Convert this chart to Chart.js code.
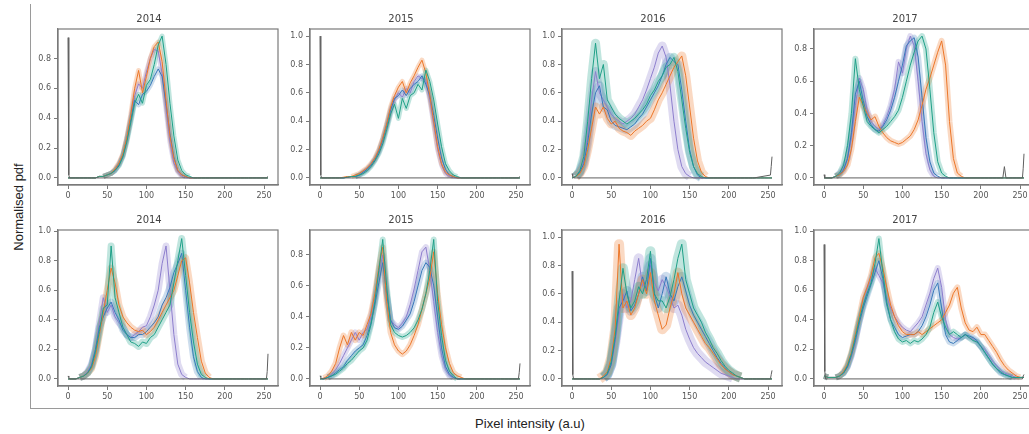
<!DOCTYPE html>
<html>
<head>
<meta charset="utf-8">
<script src="https://cdn.jsdelivr.net/npm/chart.js@4.4.1/dist/chart.umd.min.js"></script>
<style>
    body { margin: 0; background: #fff; }
    #figure { position: relative; width: 1029px; height: 434px; overflow: hidden; background: #fff; }
    #frame { position: absolute; left: 30px; top: 4px; width: 1010px; height: 404px;
             border-left: 1px solid #9a9a9a; border-bottom: 1px solid #9a9a9a; }
    .panel { position: absolute; }
    .panel canvas { filter: blur(0.45px); }
    #ylabel { position: absolute; left: 18px; top: 207px; transform: translate(-50%, -50%) rotate(-90deg);
              font: 13px "Liberation Sans", Arial, sans-serif; color: #222; white-space: nowrap; }
    #xlabel { position: absolute; left: 530px; top: 423px; transform: translate(-50%, -50%);
              font: 13px "Liberation Sans", Arial, sans-serif; color: #222; white-space: nowrap; }
</style>
</head>
<body>
<div id="figure">
    <div id="frame"></div>
    <div id="ylabel">Normalised pdf</div>
    <div id="xlabel">Pixel intensity (a.u)</div>
</div>
<script>
// ===== DATA =====
const years = ['2014', '2015', '2016', '2017', '2014', '2015', '2016', '2017'];
const xTicks = [0, 50, 100, 150, 200, 250];
const yTicks = [0.0, 0.2, 0.4, 0.6, 0.8, 1.0];
// nilai tertinggi tiap panel (untuk rentang sumbu y)
const peakValue = [0.95, 1.0, 1.0, 0.88, 0.96, 0.915, 1.0, 0.96];

// intensitas piksel 0..255, langkah 5
const intensity = [
    0, 5, 10, 15, 20, 25, 30, 35, 40, 45,
    50, 55, 60, 65, 70, 75, 80, 85, 90, 95,
    100, 105, 110, 115, 120, 125, 130, 135, 140, 145,
    150, 155, 160, 165, 170, 175, 180, 185, 190, 195,
    200, 205, 210, 215, 220, 225, 230, 235, 240, 245,
    250, 255
];
// titik tepi (lonjakan di 0 dan 255)
const edgeX = [0, 1, 2, 228, 230, 232, 253, 254, 255];

// --- baris atas, 2014 ---
const orangeA = [0,0,0,0,0,0,0,0,0.01,0.01, 0.02,0.03,0.06,0.10,0.16,0.27,0.42,0.60,0.72,0.57, 0.68,0.80,0.88,0.91,0.78,0.52,0.28,0.13,0.05,0.02, 0.01,0,0,0,0,0,0,0,0,0, 0,0,0,0,0,0,0,0,0,0, 0,0];
const purpleA = [0,0,0,0,0,0,0,0,0.01,0.01, 0.02,0.03,0.05,0.09,0.15,0.26,0.40,0.55,0.63,0.60, 0.71,0.80,0.86,0.85,0.70,0.46,0.24,0.10,0.04,0.01, 0,0,0,0,0,0,0,0,0,0, 0,0,0,0,0,0,0,0,0,0, 0,0];
const tealA = [0,0,0,0,0,0,0,0,0.01,0.01, 0.02,0.03,0.05,0.08,0.14,0.24,0.37,0.50,0.56,0.50, 0.62,0.66,0.76,0.89,0.95,0.76,0.50,0.28,0.12,0.05, 0.02,0.01,0,0,0,0,0,0,0,0, 0,0,0,0,0,0,0,0,0,0, 0,0];
const blueA = [0,0,0,0,0,0,0,0,0.01,0.01, 0.02,0.03,0.05,0.09,0.15,0.26,0.39,0.52,0.49,0.56, 0.58,0.62,0.68,0.73,0.68,0.50,0.30,0.14,0.05,0.02, 0.01,0,0,0,0,0,0,0,0,0, 0,0,0,0,0,0,0,0,0,0, 0,0];
const edgeA = [0.94,0.02,0,0,0,0,0,0.005,0.01];

// --- baris atas, 2015 ---
const orangeB = [0,0,0,0,0,0,0.005,0.01,0.01,0.02, 0.03,0.05,0.07,0.10,0.14,0.20,0.28,0.38,0.50,0.58, 0.64,0.68,0.60,0.67,0.72,0.78,0.83,0.74,0.58,0.40, 0.22,0.10,0.04,0.02,0.01,0,0,0,0,0, 0,0,0,0,0,0,0,0,0,0, 0,0];
const purpleB = [0,0,0,0,0,0,0,0.005,0.01,0.01, 0.02,0.04,0.06,0.09,0.13,0.18,0.26,0.36,0.47,0.55, 0.60,0.57,0.63,0.60,0.68,0.72,0.70,0.69,0.55,0.38, 0.20,0.09,0.03,0.01,0,0,0,0,0,0, 0,0,0,0,0,0,0,0,0,0, 0,0];
const tealB = [0,0,0,0,0,0,0,0.005,0.01,0.01, 0.02,0.03,0.05,0.08,0.12,0.17,0.24,0.34,0.45,0.52, 0.42,0.56,0.49,0.58,0.60,0.66,0.62,0.76,0.68,0.55, 0.38,0.22,0.10,0.05,0.02,0.01,0,0,0,0, 0,0,0,0,0,0,0,0,0,0, 0,0];
const blueB = [0,0,0,0,0,0,0,0.005,0.01,0.01, 0.02,0.04,0.06,0.09,0.13,0.19,0.27,0.37,0.48,0.56, 0.58,0.62,0.58,0.63,0.66,0.68,0.72,0.66,0.58,0.44, 0.28,0.14,0.06,0.02,0.01,0,0,0,0,0, 0,0,0,0,0,0,0,0,0,0, 0,0];
const edgeB = [1.0,0.02,0,0,0,0,0,0.005,0.01];

// --- baris atas, 2016 ---
const orangeC = [0,0.01,0.03,0.08,0.20,0.35,0.50,0.45,0.50,0.42, 0.38,0.40,0.35,0.33,0.32,0.30,0.33,0.35,0.37,0.40, 0.42,0.48,0.55,0.60,0.66,0.72,0.78,0.82,0.86,0.72, 0.50,0.28,0.12,0.04,0.01,0,0,0,0,0, 0,0,0,0,0,0,0,0,0,0, 0,0];
const purpleC = [0,0.01,0.04,0.12,0.30,0.55,0.75,0.60,0.55,0.50, 0.45,0.42,0.40,0.38,0.40,0.42,0.45,0.50,0.55,0.62, 0.70,0.78,0.88,0.93,0.85,0.65,0.40,0.20,0.08,0.03, 0.01,0,0,0,0,0,0,0,0,0, 0,0,0,0,0,0,0,0,0,0, 0,0];
const tealC = [0,0.01,0.05,0.15,0.40,0.70,0.95,0.70,0.80,0.55, 0.50,0.45,0.42,0.40,0.38,0.40,0.42,0.45,0.48,0.52, 0.58,0.62,0.68,0.72,0.78,0.80,0.85,0.75,0.55,0.35, 0.18,0.08,0.03,0.01,0,0,0,0,0,0, 0,0,0,0,0,0,0,0,0,0, 0,0];
const blueC = [0,0.01,0.04,0.10,0.25,0.45,0.60,0.65,0.50,0.48, 0.40,0.37,0.36,0.35,0.34,0.36,0.38,0.42,0.45,0.50, 0.55,0.60,0.65,0.72,0.80,0.85,0.82,0.80,0.62,0.40, 0.20,0.08,0.02,0,0,0,0,0,0,0, 0,0,0,0,0,0,0,0,0,0, 0,0];
const edgeC = [0.03,0.01,0,0,0,0,0.02,0.08,0.15];

// --- baris atas, 2017 ---
const orangeD = [0,0,0,0.01,0.02,0.04,0.08,0.18,0.35,0.50, 0.45,0.40,0.36,0.38,0.32,0.28,0.25,0.23,0.22,0.21, 0.22,0.24,0.26,0.30,0.36,0.45,0.55,0.62,0.70,0.78, 0.85,0.70,0.35,0.12,0.03,0.01,0,0,0,0, 0,0,0,0,0,0,0,0,0,0, 0,0];
const purpleD = [0,0,0,0.01,0.03,0.06,0.12,0.25,0.45,0.62, 0.55,0.42,0.35,0.32,0.30,0.33,0.38,0.45,0.55,0.72, 0.65,0.80,0.88,0.82,0.60,0.35,0.15,0.05,0.01,0, 0,0,0,0,0,0,0,0,0,0, 0,0,0,0,0,0,0,0,0,0, 0,0];
const tealD = [0,0,0,0.01,0.03,0.08,0.20,0.40,0.74,0.55, 0.45,0.35,0.32,0.30,0.28,0.30,0.32,0.35,0.38,0.42, 0.50,0.60,0.70,0.78,0.85,0.88,0.80,0.55,0.28,0.10, 0.03,0.01,0,0,0,0,0,0,0,0, 0,0,0,0,0,0,0,0,0,0, 0,0];
const blueD = [0,0,0,0.01,0.02,0.05,0.12,0.28,0.52,0.60, 0.48,0.38,0.33,0.30,0.29,0.32,0.36,0.42,0.50,0.60, 0.70,0.82,0.85,0.87,0.75,0.50,0.25,0.10,0.03,0.01, 0,0,0,0,0,0,0,0,0,0, 0,0,0,0,0,0,0,0,0,0, 0,0];
const edgeD = [0.02,0,0,0,0.07,0,0,0.06,0.15];

// --- baris bawah, 2014 ---
const orangeE = [0,0,0,0.01,0.02,0.04,0.07,0.15,0.30,0.45, 0.60,0.75,0.65,0.50,0.42,0.38,0.35,0.33,0.32,0.33, 0.30,0.32,0.35,0.40,0.45,0.50,0.55,0.60,0.70,0.80, 0.82,0.65,0.45,0.28,0.12,0.04,0.01,0,0,0, 0,0,0,0,0,0,0,0,0,0, 0,0];
const purpleE = [0,0,0,0.01,0.02,0.05,0.10,0.20,0.38,0.55, 0.45,0.50,0.42,0.38,0.35,0.30,0.28,0.30,0.32,0.35, 0.36,0.42,0.50,0.60,0.78,0.90,0.60,0.30,0.10,0.03, 0.01,0,0,0,0,0,0,0,0,0, 0,0,0,0,0,0,0,0,0,0, 0,0];
const tealE = [0,0,0,0.01,0.02,0.04,0.08,0.18,0.32,0.48, 0.50,0.90,0.55,0.45,0.35,0.30,0.25,0.24,0.22,0.25, 0.24,0.28,0.30,0.35,0.40,0.45,0.50,0.65,0.80,0.95, 0.70,0.45,0.25,0.10,0.03,0.01,0,0,0,0, 0,0,0,0,0,0,0,0,0,0, 0,0];
const blueE = [0,0,0,0.01,0.02,0.04,0.09,0.20,0.35,0.42, 0.48,0.52,0.45,0.40,0.33,0.30,0.28,0.28,0.30,0.30, 0.32,0.35,0.38,0.42,0.50,0.55,0.62,0.72,0.78,0.85, 0.60,0.35,0.15,0.05,0.01,0,0,0,0,0, 0,0,0,0,0,0,0,0,0,0, 0,0];
const edgeE = [0.02,0.01,0,0,0,0,0,0.05,0.17];

// --- baris bawah, 2015 ---
const orangeF = [0,0.005,0.02,0.05,0.10,0.20,0.28,0.22,0.30,0.25, 0.30,0.28,0.35,0.42,0.55,0.72,0.85,0.50,0.30,0.22, 0.18,0.16,0.18,0.22,0.28,0.35,0.45,0.55,0.65,0.82, 0.55,0.35,0.20,0.10,0.04,0.02,0.01,0,0,0, 0,0,0,0,0,0,0,0,0,0, 0,0];
const purpleF = [0,0.005,0.01,0.03,0.06,0.10,0.15,0.20,0.25,0.30, 0.25,0.30,0.32,0.40,0.52,0.68,0.80,0.55,0.38,0.35, 0.33,0.36,0.40,0.48,0.58,0.70,0.82,0.85,0.70,0.50, 0.30,0.15,0.06,0.02,0.01,0,0,0,0,0, 0,0,0,0,0,0,0,0,0,0, 0,0];
const tealF = [0,0,0.01,0.02,0.03,0.05,0.07,0.10,0.12,0.15, 0.18,0.20,0.25,0.35,0.50,0.70,0.90,0.60,0.35,0.30, 0.28,0.27,0.28,0.30,0.33,0.38,0.45,0.55,0.70,0.90, 0.50,0.28,0.12,0.05,0.02,0,0,0,0,0, 0,0,0,0,0,0,0,0,0,0, 0,0];
const blueF = [0,0,0.01,0.02,0.04,0.06,0.08,0.12,0.15,0.18, 0.20,0.22,0.28,0.36,0.48,0.62,0.75,0.55,0.38,0.33, 0.32,0.34,0.38,0.42,0.50,0.60,0.70,0.75,0.72,0.60, 0.40,0.20,0.08,0.03,0.01,0,0,0,0,0, 0,0,0,0,0,0,0,0,0,0, 0,0];
const edgeF = [0.02,0.01,0,0,0,0,0,0.04,0.10];

// --- baris bawah, 2016 ---
const orangeG = [0,0,0,0,0,0,0,0,0.02,0.05, 0.15,0.35,0.95,0.50,0.55,0.45,0.50,0.60,0.70,0.60, 0.75,0.55,0.45,0.35,0.38,0.50,0.60,0.75,0.60,0.50, 0.45,0.40,0.35,0.30,0.25,0.22,0.18,0.14,0.10,0.07, 0.05,0.03,0.02,0.01,0,0,0,0,0,0, 0,0];
const purpleG = [0,0,0,0,0,0,0,0,0.01,0.03, 0.10,0.25,0.45,0.60,0.50,0.55,0.70,0.85,0.65,0.70, 0.80,0.68,0.62,0.70,0.65,0.58,0.50,0.52,0.45,0.35, 0.28,0.22,0.18,0.15,0.12,0.10,0.08,0.06,0.04,0.03, 0.02,0.01,0,0,0,0,0,0,0,0, 0,0];
const tealG = [0,0,0,0,0,0,0,0,0.01,0.04, 0.12,0.30,0.55,0.78,0.60,0.50,0.55,0.65,0.60,0.70, 0.90,0.60,0.55,0.55,0.50,0.58,0.70,0.85,0.95,0.70, 0.60,0.50,0.45,0.40,0.33,0.28,0.22,0.18,0.13,0.09, 0.06,0.04,0.02,0.01,0,0,0,0,0,0, 0,0];
const blueG = [0,0,0,0,0,0,0,0,0.01,0.03, 0.10,0.28,0.50,0.55,0.62,0.48,0.52,0.60,0.72,0.62, 0.85,0.60,0.50,0.60,0.72,0.60,0.55,0.65,0.72,0.62, 0.52,0.45,0.40,0.35,0.30,0.25,0.20,0.15,0.11,0.08, 0.05,0.03,0.02,0.01,0,0,0,0,0,0, 0,0];
const edgeG = [0.76,0.03,0,0,0,0,0,0.03,0.06];

// --- baris bawah, 2017 ---
const orangeH = [0.02,0.01,0.01,0.01,0.02,0.05,0.10,0.18,0.30,0.42, 0.55,0.62,0.70,0.82,0.85,0.75,0.62,0.50,0.42,0.36, 0.32,0.30,0.30,0.30,0.32,0.30,0.32,0.34,0.36,0.38, 0.40,0.45,0.50,0.58,0.62,0.48,0.38,0.33,0.32,0.35, 0.30,0.30,0.26,0.22,0.18,0.13,0.09,0.06,0.04,0.02, 0.01,0.01];
const purpleH = [0.02,0.01,0.01,0.01,0.02,0.04,0.08,0.15,0.25,0.38, 0.50,0.60,0.68,0.75,0.70,0.65,0.55,0.48,0.42,0.38, 0.35,0.33,0.32,0.35,0.38,0.42,0.50,0.58,0.68,0.75, 0.62,0.40,0.30,0.28,0.27,0.28,0.30,0.28,0.27,0.25, 0.22,0.20,0.16,0.12,0.09,0.06,0.04,0.03,0.02,0.01, 0.01,0.01];
const tealH = [0.02,0.01,0.01,0.01,0.02,0.04,0.09,0.17,0.28,0.40, 0.50,0.58,0.65,0.78,0.95,0.72,0.52,0.40,0.32,0.27, 0.25,0.26,0.24,0.26,0.25,0.27,0.30,0.35,0.45,0.52, 0.42,0.35,0.30,0.32,0.30,0.28,0.30,0.28,0.26,0.25, 0.22,0.18,0.14,0.10,0.07,0.05,0.03,0.02,0.01,0.01, 0.01,0.01];
const blueH = [0.02,0.01,0.01,0.01,0.02,0.04,0.08,0.16,0.26,0.38, 0.48,0.56,0.64,0.72,0.80,0.68,0.50,0.40,0.35,0.30, 0.28,0.29,0.30,0.30,0.32,0.36,0.42,0.50,0.60,0.65, 0.48,0.30,0.25,0.24,0.26,0.28,0.30,0.29,0.28,0.26, 0.22,0.18,0.14,0.10,0.07,0.04,0.03,0.02,0.01,0.01, 0.01,0.01];
const edgeH = [0.91,0.05,0,0,0,0,0,0.02,0.03];

// ===== SUSUNAN PANEL =====
// urutan seri: ungu, biru, oranye, hijau-toska (yang terakhir digambar paling atas)
const seriesColors = ['rgb(140,125,205)', 'rgb(55,120,185)', 'rgb(236,118,40)', 'rgb(30,160,135)'];
const bandColors = ['rgba(140,125,205,0.28)', 'rgba(55,120,185,0.25)', 'rgba(236,118,40,0.28)', 'rgba(30,160,135,0.28)'];
const bandWidth = [5, 5, 9, 6, 7, 6, 10, 6];

const panelSeries = [
    [purpleA, blueA, orangeA, tealA],
    [purpleB, blueB, orangeB, tealB],
    [purpleC, blueC, orangeC, tealC],
    [purpleD, blueD, orangeD, tealD],
    [purpleE, blueE, orangeE, tealE],
    [purpleF, blueF, orangeF, tealF],
    [purpleG, blueG, orangeG, tealG],
    [purpleH, blueH, orangeH, tealH]
];
const panelEdges = [edgeA, edgeB, edgeC, edgeD, edgeE, edgeF, edgeG, edgeH];

// posisi kotak plot (piksel)
const boxLeft = [58, 310, 562, 814];
const boxTop = [29, 230];
const boxW = 220, boxH = 156;
const padLeft = 38, padTop = 20, padBottom = 24, padRight = 6;

// plugin kecil untuk menggambar bingkai kotak plot
const framePlugin = {
    id: 'frameBox',
    afterDatasetsDraw(chart) {
        const a = chart.chartArea;
        const ctx = chart.ctx;
        ctx.save();
        ctx.strokeStyle = '#7a7a7a';
        ctx.lineWidth = 1.2;
        ctx.strokeRect(a.left, a.top, a.right - a.left, a.bottom - a.top);
        ctx.restore();
    }
};

function toPoints(xs, ys) {
    return xs.map((x, i) => ({ x: x, y: ys[i] }));
}

function buildPanel(p) {
    const col = p % 4;
    const row = Math.floor(p / 4);

    const holder = document.createElement('div');
    holder.className = 'panel';
    holder.style.left = (boxLeft[col] - padLeft) + 'px';
    holder.style.top = (boxTop[row] - padTop) + 'px';
    const canvas = document.createElement('canvas');
    canvas.width = padLeft + boxW + padRight;
    canvas.height = padTop + boxH + padBottom;
    holder.appendChild(canvas);
    document.getElementById('figure').appendChild(holder);

    const datasets = [];
    const series = panelSeries[p];
    series.forEach((ys, k) => {
        // pita lebar transparan (simpangan), tidak digambar di bagian yang datar nol
        datasets.push({
            data: toPoints(intensity, ys),
            borderColor: bandColors[k],
            borderWidth: bandWidth[p],
            borderJoinStyle: 'round',
            segment: {
                borderColor: c => (c.p0.parsed.y < 0.015 && c.p1.parsed.y < 0.015) ? 'rgba(0,0,0,0)' : bandColors[k]
            },
            order: 20 - k
        });
        // garis rata-rata
        datasets.push({
            data: toPoints(intensity, ys),
            borderColor: seriesColors[k],
            borderWidth: 1,
            order: 10 - k
        });
    });
    datasets.push({
        data: toPoints(edgeX, panelEdges[p]),
        borderColor: 'rgb(95,95,95)',
        borderWidth: 1,
        order: 0
    });

    const top = peakValue[p];
    const yMin = -0.05 * top;
    const yMaxAxis = 1.05 * top;

    new Chart(canvas, {
        type: 'line',
        data: { datasets: datasets },
        options: {
            responsive: false,
            animation: false,
            events: [],
            layout: { padding: { left: 0, right: padRight, top: 0, bottom: 0 } },
            elements: { point: { radius: 0 }, line: { tension: 0 } },
            plugins: {
                legend: { display: false },
                tooltip: { enabled: false },
                title: {
                    display: true,
                    text: years[p],
                    color: '#444',
                    font: { family: 'DejaVu Sans', size: 10, weight: 'normal', lineHeight: 1.2 },
                    padding: { top: 4, bottom: 4 }
                }
            },
            scales: {
                x: {
                    type: 'linear',
                    min: -12.75,
                    max: 267.75,
                    afterBuildTicks: s => { s.ticks = xTicks.map(v => ({ value: v })); },
                    afterFit: s => { s.height = padBottom; },
                    grid: { drawOnChartArea: false, drawTicks: true, tickLength: 4, color: '#7a7a7a' },
                    border: { color: '#7a7a7a', width: 1.2 },
                    ticks: {
                        color: '#555',
                        padding: 2,
                        maxRotation: 0,
                        font: { family: 'DejaVu Sans', size: 8 },
                        callback: v => String(v)
                    }
                },
                y: {
                    type: 'linear',
                    min: yMin,
                    max: yMaxAxis,
                    afterBuildTicks: s => {
                        s.ticks = yTicks.filter(v => v <= yMaxAxis + 1e-9).map(v => ({ value: v }));
                    },
                    afterFit: s => { s.width = padLeft; },
                    grid: { drawOnChartArea: false, drawTicks: true, tickLength: 4, color: '#7a7a7a' },
                    border: { color: '#7a7a7a', width: 1.2 },
                    ticks: {
                        color: '#555',
                        padding: 3,
                        font: { family: 'DejaVu Sans', size: 8 },
                        callback: v => Number(v).toFixed(1)
                    }
                }
            }
        },
        plugins: [framePlugin]
    });
}

// Gambar semua panel
for (let p = 0; p < 8; p++) {
    buildPanel(p);
}
</script>
</body>
</html>
